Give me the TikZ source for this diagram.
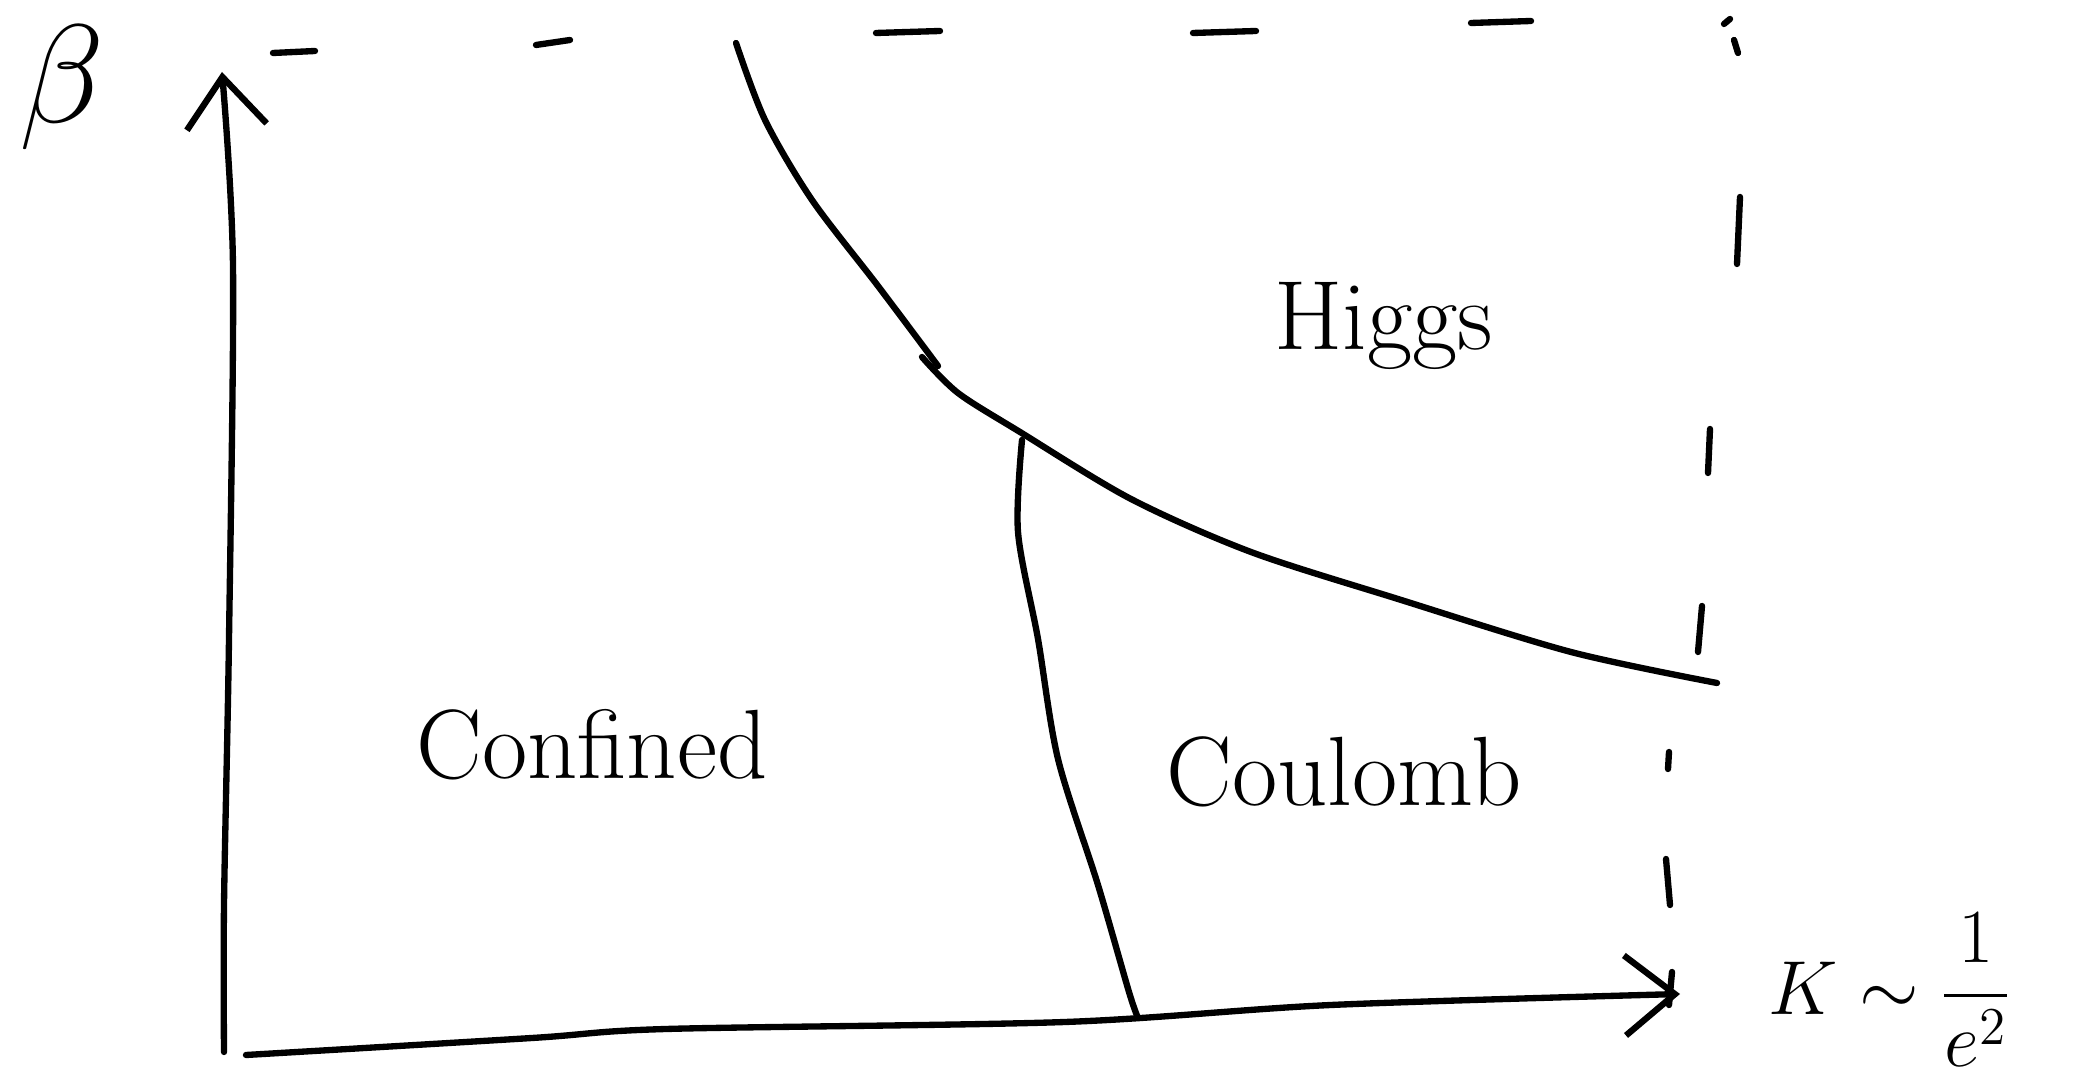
\documentclass[tikz,border=0pt]{standalone}
\usepackage{amsmath}
\usetikzlibrary{arrows.meta}

\begin{document}
\begin{tikzpicture}[
  x=0.01cm,y=-0.01cm,
  pen/.style={line width=1.8pt,line cap=round,line join=round},
  axisline/.style={pen,-{Straight Barb[length=5mm,width=8mm,line width=1.8pt]}},
  phase/.style={font=\fontsize{28}{32}\selectfont}
]
\useasboundingbox (0,0) rectangle (2087,1083);

% axes
\coordinate (O) at (224,1052);
\coordinate (ytop) at (222,72);
\coordinate (xend) at (1680,994);
\draw[axisline] plot[smooth] coordinates {(O) (224,905) (229,639) (233,266) (ytop)};
\draw[axisline] plot[smooth] coordinates {(246,1055) (532,1038) (666,1029) (1065,1022) (1331,1005) (xend)};
\node (betalab) at (62,88) {\scalebox{1.6}{\Huge$\beta$}};
\node[anchor=west] (klab) at (1756,990) {\scalebox{1.05}{\huge$K\sim\dfrac{1}{e^2}$}};

% phase boundaries
\coordinate (tp) at (1020,432);
\draw[pen] plot[smooth] coordinates {(736,43) (765,120) (812,200) (878,286) (938,366)};
\draw[pen] plot[smooth] coordinates {(922,357) (958,393) (tp) (1131,499) (1251,552) (1398,599) (1571,652) (1717,683)};
\draw[pen] plot[smooth] coordinates {(1022,440) (1018,532) (1038,639) (1058,759) (1098,885) (1129,992) (1138,1018)};

% dashed edge
\foreach \a/\b in {{273,53}/{315,51},{536,45}/{570,40},{876,33}/{940,31},{1193,33}/{1256,31},{1471,23}/{1531,21},
  {1724,24}/{1730,19},{1734,40}/{1738,53},{1740,197}/{1737,264},{1710,429}/{1708,473},{1702,606}/{1698,652},
  {1669,752}/{1668,769},{1666,859}/{1670,905},{1672,972}/{1669,1005}}
  \draw[pen] (\a) -- (\b);

% phase names
\node[phase] (confined) at (592,745) {Confined};
\node[phase] (coulomb) at (1344,772) {Coulomb};
\node[phase] (higgs) at (1384,326) {Higgs};
\end{tikzpicture}
\end{document}
